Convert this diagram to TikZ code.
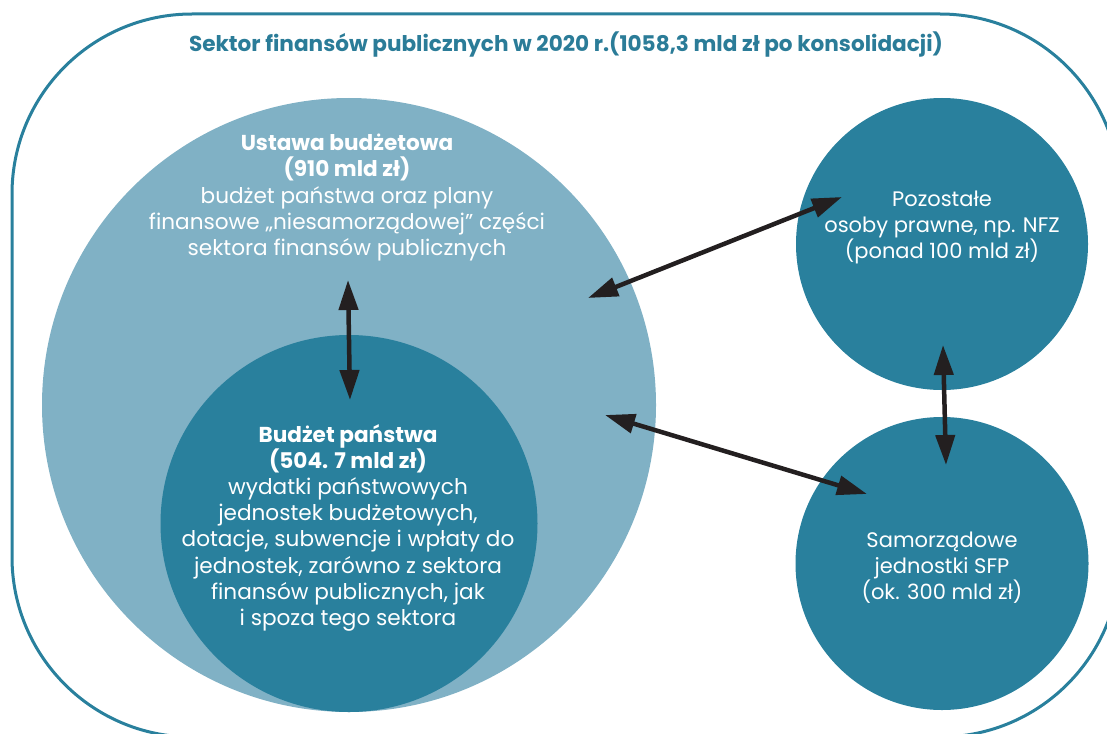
\documentclass[tikz,border=0pt]{standalone}
\usepackage{fontspec}
\setmainfont{Poppins}
\usetikzlibrary{arrows.meta}
\definecolor{darkteal}{RGB}{41,128,157}
\definecolor{lightteal}{RGB}{128,177,197}
\definecolor{titleteal}{RGB}{43,124,152}
\definecolor{arrowblack}{RGB}{35,31,32}
\tikzset{
  bubble/.style={circle, inner sep=0pt, draw=none},
  bodytext/.style={text=white, align=center, font=\fontsize{21.6}{26.2}\selectfont, inner sep=0pt},
  sidetext/.style={text=white, align=center, font=\fontsize{21}{26}\selectfont, inner sep=0pt},
  link/.style={draw=arrowblack, line width=4.5pt, {Triangle[length=30pt,width=19pt]}-{Triangle[length=30pt,width=19pt]}},
}
\begin{document}
\begin{tikzpicture}[x=1pt,y=-1pt]
\useasboundingbox (0,0) rectangle (1107,733);
\clip (0,0) rectangle (1107,733);
\draw[draw=darkteal, line width=3pt, rounded corners=180pt] (12,14) rectangle (1120,737);
\node[bubble, fill=lightteal, minimum size=614pt] (ustawa) at (349,405) {};
\node[bubble, fill=darkteal, minimum size=377pt] (budzet) at (349,523.5) {};
\node[bubble, fill=darkteal, minimum size=292pt] (pozostale) at (942,244) {};
\node[bubble, fill=darkteal, minimum size=293pt] (samorzad) at (942,563.5) {};
\node[text=titleteal, font=\fontsize{21.6}{26}\selectfont\bfseries, inner sep=0pt] (title) at (566,45) {Sektor finansów publicznych w 2020 r.(1058,3 mld zł po konsolidacji)};
\node[bodytext, anchor=north] (ustawatxt) at (347,134) {{\bfseries Ustawa budżetowa}\\{\bfseries (910 mld zł)}\\budżet państwa oraz plany\\finansowe „niesamorządowej” części\\sektora finansów publicznych};
\node[bodytext, anchor=north] (budzettxt) at (348,424) {{\bfseries Budżet państwa}\\{\bfseries (504. 7 mld zł)}\\wydatki państwowych\\jednostek budżetowych,\\dotacje, subwencje i wpłaty do\\jednostek, zarówno z sektora\\finansów publicznych, jak\\i spoza tego sektora};
\node[sidetext, anchor=north] (pozostaletxt) at (942,191) {Pozostałe\\osoby prawne, np. NFZ\\(ponad 100 mld zł)};
\node[sidetext, anchor=north] (samorzadtxt) at (942,532) {Samorządowe\\jednostki SFP\\(ok. 300 mld zł)};
\coordinate (a1) at (348,280);
\coordinate (a2) at (350,400);
\coordinate (b1) at (588,298);
\coordinate (b2) at (842,197);
\coordinate (c1) at (605,415);
\coordinate (c2) at (867,494);
\coordinate (d1) at (943,345);
\coordinate (d2) at (946,465);
\draw[link] (a1) -- (a2);
\draw[link] (b1) -- (b2);
\draw[link] (c1) -- (c2);
\draw[link] (d1) -- (d2);
\end{tikzpicture}
\end{document}
